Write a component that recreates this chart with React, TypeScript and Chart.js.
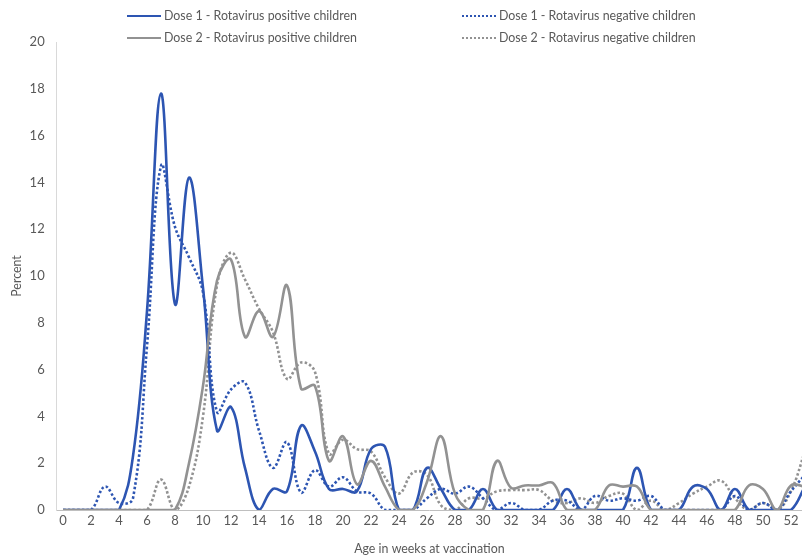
import React, { useEffect, useRef } from "react";
import { Chart, registerables } from "chart.js";

Chart.register(...registerables);

const weeks = [0, 1, 2, 3, 4, 5, 6, 7, 8, 9, 10, 11, 12, 13, 14, 15, 16, 17, 18, 19, 20, 21, 22, 23, 24, 25, 26, 27, 28, 29, 30, 31, 32, 33, 34, 35, 36, 37, 38, 39, 40, 41, 42, 43, 44, 45, 46, 47, 48, 49, 50, 51, 52, 53];

const xTickValues = [0, 2, 4, 6, 8, 10, 12, 14, 16, 18, 20, 22, 24, 26, 28, 30, 32, 34, 36, 38, 40, 42, 44, 46, 48, 50, 52];

const dose1Positive = [0, 0, 0, 0, 0, 2.3, 8.5, 17.8, 8.8, 14.2, 9.5, 3.4, 4.4, 1.8, 0, 0.9, 0.8, 3.6, 2.5, 0.9, 0.9, 0.8, 2.6, 2.7, 0, 0, 1.8, 0.9, 0, 0, 0.9, 0, 0, 0, 0, 0, 0.9, 0, 0, 0, 0, 1.8, 0, 0, 0, 1.0, 0.9, 0, 0.9, 0, 0, 0, 0, 1.0];

const dose1Negative = [0, 0, 0, 1.0, 0.3, 0.5, 7.0, 14.7, 12.1, 10.8, 9.3, 4.2, 5.15, 5.45, 3.4, 1.8, 2.9, 0.75, 1.7, 1.0, 1.4, 0.8, 0.7, 0, 0, 0, 0.5, 0.9, 0.7, 1.0, 0.5, 0, 0.3, 0, 0, 0.4, 0.4, 0, 0.6, 0.4, 0.5, 0.4, 0.6, 0, 0, 0, 0, 0, 0.6, 0, 0.3, 0, 0.8, 1.5];

const dose2Positive = [0, 0, 0, 0, 0, 0, 0, 0, 0, 2.0, 5.3, 9.8, 10.7, 7.4, 8.5, 7.4, 9.6, 5.2, 5.3, 2.1, 3.15, 1.1, 2.1, 1.0, 0, 0, 1.2, 3.15, 0.7, 0, 0, 2.1, 0.95, 1.05, 1.05, 1.15, 0, 0, 0, 1.05, 1.0, 1.0, 0, 0, 0, 0, 0, 0, 0, 1.05, 0.9, 0, 1.05, 1.0];

const dose2Negative = [0, 0, 0, 0, 0, 0, 0, 1.3, 0, 1.0, 4.0, 9.6, 11.0, 9.85, 8.6, 7.6, 5.6, 6.3, 5.9, 2.4, 3.0, 2.6, 2.5, 1.4, 0.7, 1.6, 1.5, 0.2, 0, 0.5, 0.5, 0.8, 0.85, 0.85, 0.85, 0.4, 0.3, 0.5, 0.3, 0.6, 0.7, 0, 0.4, 0, 0.3, 0.7, 1.0, 1.25, 0.5, 0, 0.3, 0, 0.8, 2.5];

const seriesNames = [
  "Dose 1 - Rotavirus positive children",
  "Dose 1 - Rotavirus negative children",
  "Dose 2 - Rotavirus positive children",
  "Dose 2 - Rotavirus negative children",
];

const BLUE = "#2d55b2";
const GRAY = "#929292";
const FONT = "Lato, 'Liberation Sans', sans-serif";
const TEXT = "#595959";

const toPoints = (vals: number[]) => weeks.map((w, i) => ({ x: w, y: vals[i] }));

function LegendItem({ color, dashed, label, left, top }: { color: string; dashed: boolean; label: string; left: number; top: number }) {
  return (
    <div style={{ position: "absolute", left, top, display: "flex", alignItems: "center", whiteSpace: "nowrap" }}>
      <div style={{ width: 34, height: 0, borderTop: `2.5px ${dashed ? "dotted" : "solid"} ${color}`, marginRight: 3 }} />
      <span style={{ fontFamily: FONT, fontSize: 12.4, color: TEXT, lineHeight: "14px" }}>{label}</span>
    </div>
  );
}

export default function App() {
  const ref = useRef<HTMLCanvasElement | null>(null);

  useEffect(() => {
    if (!ref.current) return;
    const chart = new Chart(ref.current, {
      type: "line",
      data: {
        datasets: [
          { label: seriesNames[0], data: toPoints(dose1Positive), borderColor: BLUE, borderWidth: 2.6, tension: 0.4, pointRadius: 0, order: 1 },
          { label: seriesNames[1], data: toPoints(dose1Negative), borderColor: BLUE, borderWidth: 2.6, borderDash: [2.5, 2.2], tension: 0.4, pointRadius: 0, order: 2 },
          { label: seriesNames[2], data: toPoints(dose2Positive), borderColor: GRAY, borderWidth: 2.6, tension: 0.4, pointRadius: 0, order: 0 },
          { label: seriesNames[3], data: toPoints(dose2Negative), borderColor: GRAY, borderWidth: 2.6, borderDash: [2.5, 2.2], tension: 0.4, pointRadius: 0, order: 3 },
        ],
      },
      options: {
        animation: false,
        responsive: false,
        devicePixelRatio: 1,
        layout: { padding: { top: 42, left: 0, right: 0, bottom: 0 } },
        plugins: { legend: { display: false }, tooltip: { enabled: false } },
        scales: {
          x: {
            type: "linear",
            min: -0.45,
            max: 52.79,
            afterBuildTicks: (scale: any) => {
              scale.ticks = xTickValues.map((v) => ({ value: v }));
            },
            afterFit: (scale: any) => {
              scale.height = 46;
            },
            grid: { display: true, color: "rgba(0,0,0,0)", drawTicks: false },
            border: { display: true, color: "#bfbfbf", width: 1 },
            ticks: { color: TEXT, font: { family: FONT, size: 13 }, padding: 3, maxRotation: 0, autoSkip: false },
            title: { display: true, text: "Age in weeks at vaccination", color: TEXT, font: { family: FONT, size: 12.4 }, padding: { top: 0, bottom: 0 } },
          },
          y: {
            min: 0,
            max: 20,
            afterFit: (scale: any) => {
              scale.width = 56.7;
            },
            grid: { display: true, color: "rgba(0,0,0,0)", drawTicks: false },
            border: { display: true, color: "#d9d9d9", width: 1 },
            ticks: { stepSize: 2, color: TEXT, font: { family: FONT, size: 13 }, padding: 12 },
            title: { display: true, text: "Percent", color: TEXT, font: { family: FONT, size: 12.4 }, padding: { top: 10, bottom: 0 } },
          },
        },
      },
    });
    return () => chart.destroy();
  }, []);

  return (
    <div style={{ position: "fixed", left: 0, top: 0, width: 802, height: 556, overflow: "hidden", background: "#fff" }}>
      <canvas ref={ref} width={802} height={556} style={{ position: "absolute", left: 0, top: 0, width: 802, height: 556 }} />
      <LegendItem color={BLUE} dashed={false} label={seriesNames[0]} left={127} top={9} />
      <LegendItem color={BLUE} dashed={true} label={seriesNames[1]} left={462} top={9} />
      <LegendItem color={GRAY} dashed={false} label={seriesNames[2]} left={127} top={31} />
      <LegendItem color={GRAY} dashed={true} label={seriesNames[3]} left={462} top={31} />
    </div>
  );
}
